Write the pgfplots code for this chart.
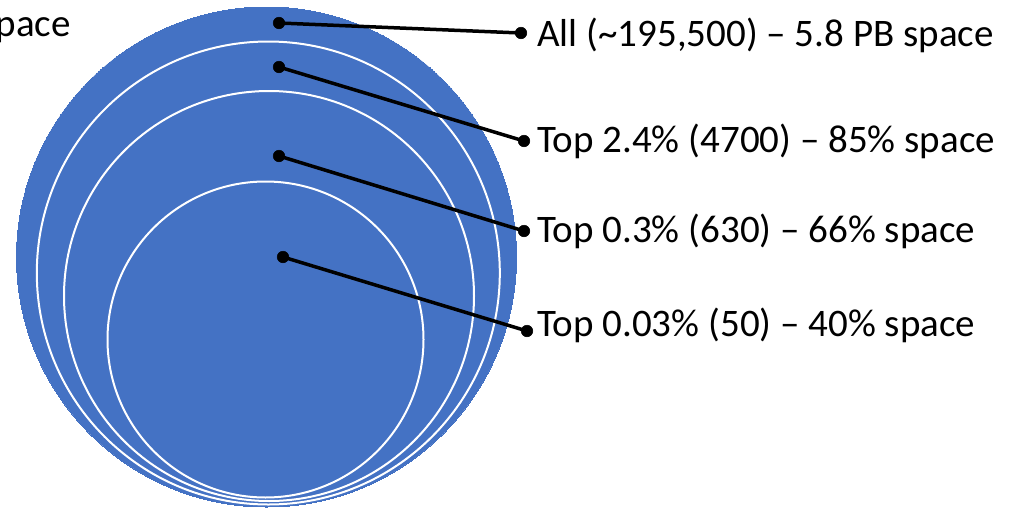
\documentclass[border=0pt]{standalone}
\usepackage{pgfplots}
\pgfplotsset{compat=1.18}
\usepackage{fontspec}
\setmainfont{Carlito}
\definecolor{officeblue}{HTML}{4472C4}
\newcommand{\labelfont}{\fontsize{39pt}{46pt}\selectfont}

\begin{document}
\begin{tikzpicture}
	% picture = 1013 x 509 px, 1px = 1pt
	\useasboundingbox (0,0) rectangle (1013pt,509pt);
	\clip (0,0) rectangle (1013pt,509pt);
	\begin{axis}[
		at={(0,0)}, anchor=south west,
		scale only axis,
		width=1013pt, height=509pt,
		xmin=0, xmax=1013,
		ymin=0, ymax=509,
		y dir=reverse,
		hide axis,
		clip=true,
		clip marker paths=true,
		]
		
		% nested circles (centre, radius in px)
		\addplot[only marks, mark=*, mark size=250pt,
			mark options={fill=officeblue, draw=officeblue, line width=0pt}]
			coordinates {(266.5,257)};
		\addplot[only marks, mark=*, mark size=231.5pt,
			mark options={fill=officeblue, draw=white, line width=2pt}]
			coordinates {(268.3,273)};
		\addplot[only marks, mark=*, mark size=205pt,
			mark options={fill=officeblue, draw=white, line width=2pt}]
			coordinates {(269,296)};
		\addplot[only marks, mark=*, mark size=158pt,
			mark options={fill=officeblue, draw=white, line width=2pt}]
			coordinates {(265.5,339.5)};
		
		% connectors
		\addplot[black, line width=3.5pt, mark=*, mark size=5.8pt,
			mark options={solid, line width=0.5pt}]
			coordinates {(279,23) (521,33)};
		\addplot[black, line width=3.5pt, mark=*, mark size=5.8pt,
			mark options={solid, line width=0.5pt}]
			coordinates {(279,67) (524,141)};
		\addplot[black, line width=3.5pt, mark=*, mark size=5.8pt,
			mark options={solid, line width=0.5pt}]
			coordinates {(279,156) (524,231)};
		\addplot[black, line width=3.5pt, mark=*, mark size=5.8pt,
			mark options={solid, line width=0.5pt}]
			coordinates {(283,257) (527,331)};
	\end{axis}
	% labels (same px frame, y measured from the top)
	\begin{scope}[every node/.style={inner sep=0pt, font=\labelfont}]
		\node[anchor=base east] at (71pt,509pt-37pt) {space};
		\node[anchor=base west] at (537pt,509pt-47pt) {All (\textasciitilde195,500) – 5.8 PB space};
		\node[anchor=base west] at (537pt,509pt-153pt) {Top 2.4\% (4700) – 85\% space};
		\node[anchor=base west] at (537pt,509pt-243pt) {Top 0.3\% (630) – 66\% space};
		\node[anchor=base west] at (537pt,509pt-337pt) {Top 0.03\% (50) – 40\% space};
	\end{scope}
\end{tikzpicture}
\end{document}
